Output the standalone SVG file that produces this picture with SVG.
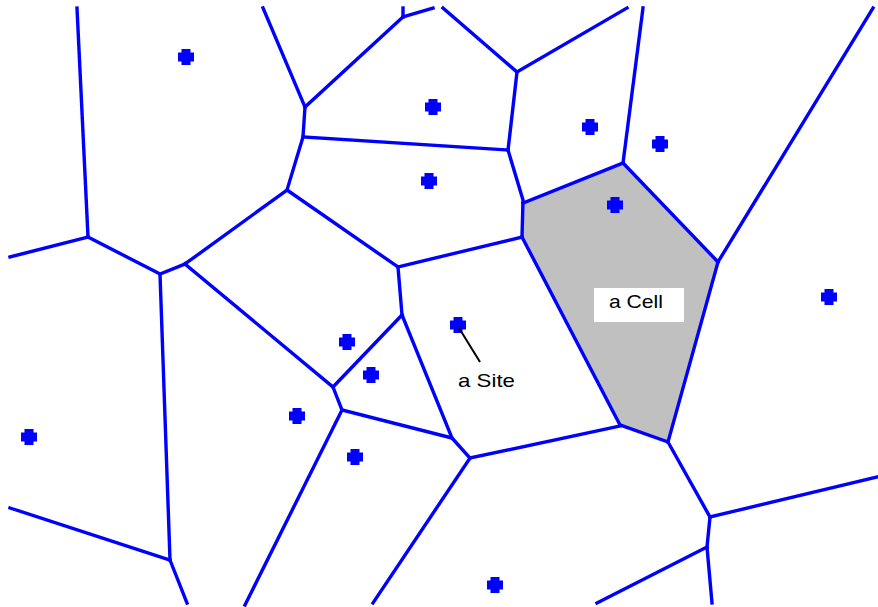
<svg xmlns="http://www.w3.org/2000/svg" width="878" height="607" viewBox="0 0 878 607">
<style>
.e{fill:none;stroke:#0000FF;stroke-width:3.4;stroke-linejoin:round;stroke-linecap:square}
.s{fill:#0000FF}
.t{font-family:"Liberation Sans",Arial,sans-serif;font-size:19px;fill:#000}
</style>
<defs>
<path id="site" d="M-4.5,-8 h9 v3.5 h3.5 v9 h-3.5 v3.5 h-9 v-3.5 h-3.5 v-9 h3.5 z"/>
</defs>
<rect width="878" height="607" fill="#fff"/>
<g id="cell-highlight">
<polygon points="523,203 623,163 718,262 668,442 620,425 522,237" fill="#C0C0C0"/>
</g>
<g id="edges" class="e">
<path d="M77,8 L88,237"/>
<path d="M10,257 L88,237"/>
<path d="M88,237 L160,274"/>
<path d="M160,274 L185,264"/>
<path d="M185,264 L287,190"/>
<path d="M263,8 L305,107"/>
<path d="M305,107 L303,137 L287,190"/>
<path d="M305,107 L403,17"/>
<path d="M403,17 L403,8"/>
<path d="M403,17 L433,8"/>
<path d="M443,8 L517,72"/>
<path d="M517,72 L627,8"/>
<path d="M517,72 L510,133 L508,150"/>
<path d="M303,137 L508,150"/>
<path d="M508,150 L523,200 L522,237"/>
<path d="M523,203 L623,163"/>
<path d="M623,163 L643,8"/>
<path d="M623,163 L718,262"/>
<path d="M718,262 L873,8"/>
<path d="M718,262 L668,442"/>
<path d="M668,442 L620,425"/>
<path d="M620,425 L522,237"/>
<path d="M522,237 L398,267"/>
<path d="M287,190 L398,267"/>
<path d="M398,267 L402,315"/>
<path d="M402,315 L452,438"/>
<path d="M402,315 L333,387"/>
<path d="M185,264 L333,387"/>
<path d="M333,387 L342,410"/>
<path d="M342,410 L452,438 L470,458"/>
<path d="M342,410 L245,605"/>
<path d="M470,458 L620,426"/>
<path d="M470,458 L373,603"/>
<path d="M668,442 L710,517"/>
<path d="M710,517 L877,477"/>
<path d="M710,517 L707,547 L712,603"/>
<path d="M707,547 L597,603"/>
<path d="M160,274 L170,560"/>
<path d="M10,508 L170,560"/>
<path d="M170,560 L187,603"/>
</g>
<g id="sites" class="s">
<use href="#site" x="186" y="57"/>
<use href="#site" x="433" y="107"/>
<use href="#site" x="429" y="181"/>
<use href="#site" x="590" y="127"/>
<use href="#site" x="660" y="144"/>
<use href="#site" x="615" y="205"/>
<use href="#site" x="829" y="297"/>
<use href="#site" x="458" y="325"/>
<use href="#site" x="347" y="342"/>
<use href="#site" x="371" y="375"/>
<use href="#site" x="297" y="416"/>
<use href="#site" x="355" y="457"/>
<use href="#site" x="29" y="437"/>
<use href="#site" x="495" y="585"/>
</g>
<g id="label-site">
<line x1="459" y1="328" x2="480" y2="362" stroke="#000" stroke-width="2"/>
<text class="t" x="458" y="387" textLength="57" lengthAdjust="spacingAndGlyphs">a Site</text>
</g>
<g id="label-cell">
<rect x="594" y="288" width="90" height="34" fill="#fff"/>
<text class="t" x="609" y="308" textLength="54" lengthAdjust="spacingAndGlyphs">a Cell</text>
</g>
</svg>
